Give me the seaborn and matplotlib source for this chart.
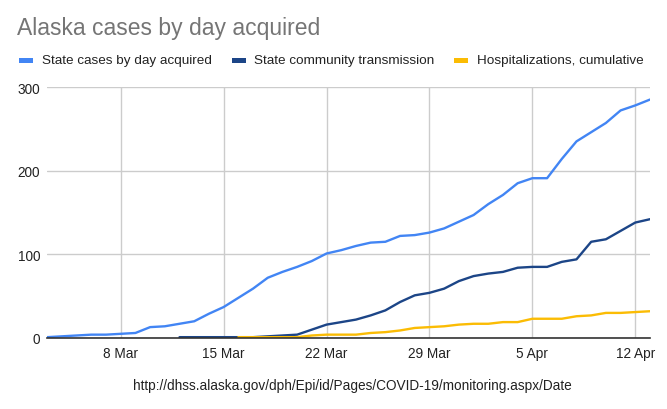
import matplotlib
matplotlib.use("Agg")
import matplotlib.pyplot as plt
import seaborn as sns
import pandas as pd
from matplotlib.patches import Rectangle

# ---- data ----
series_names = ["State cases by day acquired", "State community transmission", "Hospitalizations, cumulative"]
cases_start = "2020-03-03"
cases = [1, 2, 3, 4, 4, 5, 6, 13, 14, 17, 20, 29, 37, 48, 59, 72, 79, 85, 92, 101, 105,
         110, 114, 115, 122, 123, 126, 131, 139, 147, 160, 171, 185, 191, 191, 214, 235,
         246, 257, 272, 278, 285]
community_start = "2020-03-12"
community = [1, 1, 1, 1, 1, 1, 2, 3, 4, 10, 16, 19, 22, 27, 33, 43, 51, 54, 59, 68, 74,
             77, 79, 84, 85, 85, 91, 94, 115, 118, 128, 138, 142]
hosp_start = "2020-03-16"
hosp = [1, 1, 1, 1, 1, 3, 4, 4, 4, 6, 7, 9, 12, 13, 14, 16, 17, 17, 19, 19, 23, 23, 23,
        26, 27, 30, 30, 31, 32]
tick_dates = ["2020-03-08", "2020-03-15", "2020-03-22", "2020-03-29", "2020-04-05", "2020-04-12"]
tick_labels = ["8 Mar", "15 Mar", "22 Mar", "29 Mar", "5 Apr", "12 Apr"]
y_ticks = [0, 100, 200, 300]
colors = ["#4285F4", "#1C4587", "#FBBC04"]

frames = []
for name, start, vals in zip(series_names, [cases_start, community_start, hosp_start],
                             [cases, community, hosp]):
    frames.append(pd.DataFrame({"date": pd.date_range(start, periods=len(vals), freq="D"),
                                "value": vals, "series": name}))
df = pd.concat(frames, ignore_index=True)

sns.set_style("white")
plt.rcParams["font.family"] = ["Liberation Sans", "DejaVu Sans"]

W, H = 667, 410
fig = plt.figure(figsize=(W / 100, H / 100), dpi=100)
x0, x1, ytop, ybot = 47.2, 650, 88, 339
ax = fig.add_axes([x0 / W, (H - ybot) / H, (x1 - x0) / W, (ybot - ytop) / H])

sns.lineplot(data=df, x="date", y="value", hue="series", hue_order=series_names,
             palette=colors, linewidth=1.7, legend=False, ax=ax, zorder=3)

ax.set_xlim(pd.Timestamp("2020-03-03"), pd.Timestamp("2020-04-13"))
ax.set_ylim(0, 300)
ax.set_xticks(pd.to_datetime(tick_dates))
ax.set_xticklabels(tick_labels)
ax.set_yticks(y_ticks)
ax.set_yticklabels([str(v) for v in y_ticks])
ax.set_xlabel("")
ax.set_ylabel("")
ax.grid(True, color="#cccccc", linewidth=1.0)
ax.set_axisbelow(True)
for s in ["top", "right", "left"]:
    ax.spines[s].set_visible(False)
ax.spines["bottom"].set_color("#333333")
ax.spines["bottom"].set_linewidth(1.2)
ax.spines["bottom"].set_zorder(4)
ax.tick_params(axis="both", length=0, labelsize=9.8, labelcolor="#222222")
ax.tick_params(axis="y", pad=5)
ax.tick_params(axis="x", pad=5.5)

# title
fig.text(17 / W, 1 - 28 / H, "Alaska cases by day acquired", fontsize=16.5,
         color="#757575", ha="left", va="center")

# legend
leg_y = 61
items = [(19, 42), (232, 254.5), (454, 477)]
for (mx, tx), name, c in zip(items, series_names, colors):
    fig.patches.append(Rectangle((mx / W, 1 - (leg_y + 2.5) / H), 13.5 / W, 5 / H,
                                 transform=fig.transFigure, facecolor=c, edgecolor="none"))
    fig.text(tx / W, 1 - leg_y / H, name, fontsize=9.7, color="#222222",
             ha="left", va="center")

# source
fig.text(352 / W, 1 - 386 / H,
         "http://dhss.alaska.gov/dph/Epi/id/Pages/COVID-19/monitoring.aspx/Date",
         fontsize=9.8, color="#222222", ha="center", va="center")

fig.savefig("out.png", dpi=100, facecolor="white")
